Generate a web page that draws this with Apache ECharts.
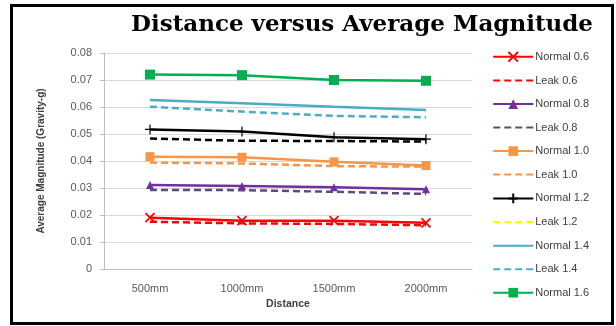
<!DOCTYPE html>
<html><head><meta charset="utf-8">
<script src="https://cdn.jsdelivr.net/npm/echarts@6/dist/echarts.min.js"></script>
<style>html,body{margin:0;padding:0;background:#fff}#c{width:616px;height:326px}</style>
</head><body><div id="c"></div>
<script>
const categories = ['500mm','1000mm','1500mm','2000mm'];
const seriesNames = ['Normal 0.6','Leak 0.6','Normal 0.8','Leak 0.8','Normal 1.0','Leak 1.0','Normal 1.2','Leak 1.2','Normal 1.4','Leak 1.4','Normal 1.6'];
const normal06 = [0.0190, 0.0179, 0.0179, 0.0171];
const leak06   = [0.0175, 0.0169, 0.0167, 0.0162];
const normal08 = [0.0311, 0.0307, 0.0303, 0.0295];
const leak08   = [0.0293, 0.0292, 0.0286, 0.0278];
const normal10 = [0.0416, 0.0414, 0.0397, 0.0383];
const leak10   = [0.0394, 0.0391, 0.0381, 0.0379];
const normal12 = [0.0517, 0.0509, 0.0488, 0.0481];
const leak12   = [0.0483, 0.0475, 0.0474, 0.0472];
const normal14 = [0.0626, 0.0614, 0.0601, 0.0589];
const leak14   = [0.0601, 0.0583, 0.0567, 0.0562];
const normal16 = [0.0720, 0.0718, 0.0700, 0.0697];
const yTicks = { min: 0, max: 0.08, interval: 0.01 };

const X_PATH = 'path://M0,0L10,10M10,0L0,10';
const PLUS_PATH = 'path://M5,0L5,10M0,5L10,5';
const dash = [7,4];
function mk(name, data, color, dashed, symbol, size, stroke) {
  const s = {
    name, type:'line', data,
    lineStyle:{color, width:2.5, type: dashed ? dash : 'solid'},
    itemStyle:{color},
    symbol: symbol || 'circle', symbolSize: size || 0,
    showSymbol: !!symbol, animation:false
  };
  if (stroke) { s.itemStyle = {color:'rgba(0,0,0,0)', borderColor:color, borderWidth:stroke}; }
  return s;
}
const series = [
  mk('Normal 0.6', normal06, '#ff0000', false, X_PATH, 9, 1.8),
  mk('Leak 0.6', leak06, '#ff0000', true),
  mk('Normal 0.8', normal08, '#7030a0', false, 'triangle', 8),
  mk('Leak 0.8', leak08, '#604a7b', true),
  mk('Normal 1.0', normal10, '#f79646', false, 'rect', 9),
  mk('Leak 1.0', leak10, '#f79646', true),
  mk('Normal 1.2', normal12, '#000000', false, PLUS_PATH, 10, 1.2),
  mk('Leak 1.2', leak12, '#000000', true),
  mk('Normal 1.4', normal14, '#4bacc6', false),
  mk('Leak 1.4', leak14, '#4bacc6', true),
  mk('Normal 1.6', normal16, '#00b050', false, 'rect', 10)
];
const legendData = seriesNames.map((n, i) => {
  const s = series[i];
  const item = {name:n};
  if (!s.showSymbol) item.itemStyle = {opacity:0};
  if (n === 'Leak 1.2') item.lineStyle = {color:'#ffff00', type:dash, width:2.5};
  return item;
});

const chart = echarts.init(document.getElementById('c'), null, {renderer:'canvas'});
chart.setOption({
  backgroundColor:'#fff',
  animation:false,
  title:{text:'Distance versus Average Magnitude', left:357, top:9, textAlign:'center',
    textStyle:{fontFamily:'DejaVu Serif', fontWeight:'bold', fontSize:23, color:'#000'}},
  grid:{left:104, right:144, top:53, bottom:57},
  legend:{orient:'vertical', left:487, top:46, itemWidth:40, itemHeight:12, itemGap:12.5,
    data:legendData, textStyle:{fontFamily:'Liberation Sans', fontSize:11, color:'#404040', padding:[0,0,0,-3]}},
  xAxis:{type:'category', data:categories, boundaryGap:true,
    name:'Distance', nameLocation:'middle', nameGap:30,
    nameTextStyle:{fontFamily:'Liberation Sans', fontWeight:'bold', fontSize:10.5, color:'#404040'},
    axisLine:{lineStyle:{color:'#bfbfbf'}}, axisTick:{length:4, lineStyle:{color:'#bfbfbf'}},
    axisLabel:{fontFamily:'Liberation Sans', fontSize:11, color:'#595959', margin:14}},
  yAxis:{type:'value', min:yTicks.min, max:yTicks.max, interval:yTicks.interval,
    name:'Average Magnitude (Gravity-g)', nameLocation:'middle', nameGap:58,
    nameTextStyle:{fontFamily:'Liberation Sans', fontWeight:'bold', fontSize:10, color:'#404040'},
    axisLine:{show:true, lineStyle:{color:'#bfbfbf'}}, axisTick:{show:true, length:4, lineStyle:{color:'#bfbfbf'}},
    splitLine:{lineStyle:{color:'#d9d9d9'}},
    axisLabel:{fontFamily:'Liberation Sans', fontSize:11, color:'#595959', margin:12,
      formatter: v => v === 0 ? '0' : v.toFixed(2)}},
  graphic:[{type:'rect', shape:{x:11.5, y:5.5, width:601, height:318}, style:{fill:'none', stroke:'#000', lineWidth:3}, silent:true}],
  series
});
</script></body></html>
